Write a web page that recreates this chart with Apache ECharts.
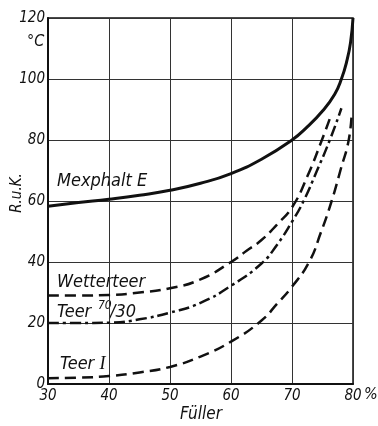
<!DOCTYPE html>
<html>
<head>
<meta charset="utf-8">
<script src="https://cdn.jsdelivr.net/npm/echarts@6/dist/echarts.min.js"></script>
<style>
html,body{margin:0;padding:0;background:#fff;}
#c{width:378px;height:426px;}
</style>
</head>
<body>
<div id="c"></div>
<script>
var xTicks = [30, 40, 50, 60, 70, 80];
var yTicks = [0, 20, 40, 60, 80, 100, 120];

var mexX = [30, 35, 40, 45, 50, 55, 60, 65, 70, 72.5, 75, 77, 78.1, 79, 79.6, 80];
var mexY = [58.3, 59.5, 60.6, 61.9, 63.5, 65.8, 69, 73.7, 80, 84.3, 89.5, 95, 100, 106, 112, 120];

var wetX = [30, 35, 40, 45, 50, 55, 60, 62.5, 65, 67.5, 70, 72.5, 74.9, 76.2];
var wetY = [29, 29, 29.2, 30, 31.4, 34.3, 40, 43.6, 47.2, 52.2, 57.9, 68, 80, 87];

var t73X = [30, 35, 40, 45, 50, 55, 60, 65, 67.5, 70, 71.9, 74, 76.2, 78.1];
var t73Y = [20, 20, 20.1, 21.2, 23.4, 26.6, 32.2, 39.5, 45.5, 53.2, 60, 69.5, 80, 90.4];

var t1X = [30, 35, 40, 45, 50, 55, 60, 65, 67.5, 70, 72.8, 74.7, 76.5, 78, 79.3, 79.8];
var t1Y = [1.9, 2.1, 2.6, 3.8, 5.6, 9, 13.9, 20.8, 26.2, 31.9, 40, 49.5, 60, 70.5, 80, 89.3];

function pairs(xs, ys) { return xs.map(function (x, i) { return [x, ys[i]]; }); }

var FONT = "'Liberation Sans Narrow', 'DejaVu Sans Condensed', 'Liberation Sans', sans-serif";
var INK = '#111';

var chart = echarts.init(document.getElementById('c'), null, {renderer: 'canvas'});
chart.setOption({
  animation: false,
  backgroundColor: '#fff',
  grid: {left: 48, right: 25, top: 18, bottom: 42, show: true, borderColor: INK, borderWidth: 1.5},
  xAxis: {
    type: 'value', min: 30, max: 80, interval: 10,
    axisLine: {show: true, lineStyle: {color: INK, width: 2}},
    axisTick: {show: false},
    splitLine: {show: true, lineStyle: {color: '#333', width: 1}},
    axisLabel: {color: INK, fontFamily: FONT, fontStyle: 'italic', fontSize: 15, margin: 5,
      formatter: function (v) { return xTicks.indexOf(v) >= 0 ? String(v) : ''; }}
  },
  yAxis: {
    type: 'value', min: 0, max: 120, interval: 20,
    axisLine: {show: true, lineStyle: {color: INK, width: 2}},
    axisTick: {show: false},
    splitLine: {show: true, lineStyle: {color: '#333', width: 1}},
    axisLabel: {color: INK, fontFamily: FONT, fontStyle: 'italic', fontSize: 15, margin: 3,
      formatter: function (v) { return yTicks.indexOf(v) >= 0 ? String(v) : ''; }}
  },
  series: [
    {type: 'line', name: 'Mexphalt E', data: pairs(mexX, mexY), smooth: 0.5,
      showSymbol: false, lineStyle: {color: INK, width: 3}},
    {type: 'line', name: 'Wetterteer', data: pairs(wetX, wetY), smooth: 0.5,
      showSymbol: false, lineStyle: {color: INK, width: 2.5, type: [11, 6]}},
    {type: 'line', name: 'Teer 70/30', data: pairs(t73X, t73Y), smooth: 0.5,
      showSymbol: false, lineStyle: {color: INK, width: 2.5, type: [11, 4, 3, 4]}},
    {type: 'line', name: 'Teer I', data: pairs(t1X, t1Y), smooth: 0.5,
      showSymbol: false, lineStyle: {color: INK, width: 2.5, type: [11, 6]}}
  ],
  graphic: [
    {type: 'text', left: 27, top: 34, style: {text: '°C', font: 'italic 16px ' + FONT, fill: INK}},
    {type: 'text', left: 364, top: 387, style: {text: '%', font: 'italic 16px ' + FONT, fill: INK}},
    {type: 'text', left: 180, top: 406, style: {text: 'Füller', font: 'italic 17px ' + FONT, fill: INK}},
    {type: 'text', x: 17, y: 193, rotation: Math.PI / 2,
      style: {text: 'R.u.K.', font: 'italic 15px ' + FONT, fill: INK, align: 'center', verticalAlign: 'middle'}},
    {type: 'text', left: 57, top: 172, style: {text: 'Mexphalt E', font: 'italic 18px ' + FONT, fill: INK}},
    {type: 'text', left: 57, top: 273, style: {text: 'Wetterteer', font: 'italic 18px ' + FONT, fill: INK}},
    {type: 'text', left: 57, top: 303, style: {text: 'Teer', font: 'italic 18px ' + FONT, fill: INK}},
    {type: 'text', left: 98, top: 300, style: {text: '70', font: 'italic 12px ' + FONT, fill: INK}},
    {type: 'text', left: 110, top: 303, style: {text: '/30', font: 'italic 18px ' + FONT, fill: INK}},
    {type: 'text', left: 60, top: 355, style: {
      text: '{a|Teer }{b|I}', fill: INK,
      rich: {
        a: {font: 'italic 18px ' + FONT, fill: INK},
        b: {font: 'italic 18px "Liberation Serif", serif', fill: INK}
      }}}
  ]
});
</script>
</body>
</html>
